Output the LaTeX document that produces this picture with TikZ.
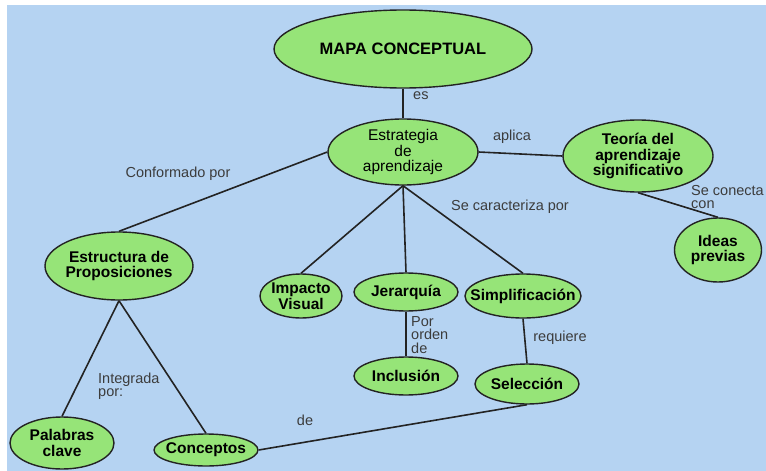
\documentclass[tikz,border=0pt]{standalone}
\usepackage{fontspec}
\setmainfont{Liberation Sans}
\usetikzlibrary{shapes.geometric}

\definecolor{paper}{RGB}{181,211,242}
\definecolor{leaf}{RGB}{150,228,120}
\definecolor{ink}{RGB}{35,35,35}
\definecolor{linkink}{RGB}{60,60,60}

\tikzset{
  concept/.style={ellipse, draw=ink, line width=1.4pt, fill=leaf, inner sep=0pt},
  ctext/.style={align=center, text=black, font=\fontsize{15.5}{15.5}\selectfont\bfseries},
  plaintext/.style={align=center, text=black, font=\fontsize{15.5}{15.5}\selectfont},
  link/.style={draw=ink, line width=1.6pt},
  linktext/.style={text=linkink, inner sep=0pt, font=\fontsize{14.5}{13.5}\selectfont}
}

\begin{document}
\begin{tikzpicture}[x=1pt, y=-1pt]
  % canvas with its thin white edge on top and left
  \fill[white] (0,0) rectangle (766,471);
  \fill[paper] (7,5) rectangle (766,471);
  \useasboundingbox (0,0) rectangle (766,471);

  % concepts
  \node[concept, minimum width=258, minimum height=78,
        label={[ctext, font=\fontsize{16.5}{16}\selectfont\bfseries]center:MAPA CONCEPTUAL}]
        (mapa) at (403,49) {};
  \node[concept, minimum width=150, minimum height=66,
        label={[plaintext]center:Estrategia\\de\\aprendizaje}]
        (estr) at (403,152) {};
  \node[concept, minimum width=150, minimum height=72,
        label={[ctext]center:Teoría del\\aprendizaje\\significativo}]
        (teoria) at (638,156) {};
  \node[concept, minimum width=87, minimum height=64,
        label={[ctext]center:Ideas\\previas}]
        (ideas) at (718,250) {};
  \node[concept, minimum width=148, minimum height=68,
        label={[ctext]center:Estructura de\\Proposiciones}]
        (estruct) at (119,266) {};
  \node[concept, minimum width=82, minimum height=44,
        label={[ctext]center:Impacto\\Visual}]
        (impacto) at (301,296) {};
  \node[concept, minimum width=104, minimum height=38,
        label={[ctext]center:Jerarquía}]
        (jerarquia) at (406,292) {};
  \node[concept, minimum width=116, minimum height=44,
        label={[ctext]center:Simplificación}]
        (simpl) at (523,296) {};
  \node[concept, minimum width=104, minimum height=38,
        label={[ctext]center:Inclusión}]
        (inclusion) at (406,376) {};
  \node[concept, minimum width=104, minimum height=40,
        label={[ctext]center:Selección}]
        (seleccion) at (527,384) {};
  \node[concept, minimum width=104, minimum height=32,
        label={[ctext]center:Conceptos}]
        (conceptos) at (206,450) {};
  \node[concept, minimum width=104, minimum height=52,
        label={[ctext]center:Palabras\\clave}]
        (palabras) at (62,443) {};

  % connectors, from border to border
  \path[link] (mapa.south) -- (estr.north);
  \path[link] (estr.east) -- (teoria.west);
  \path[link] (teoria.south) -- (ideas.north);
  \path[link] (estr.west) -- (estruct.north);
  \path[link] (estr.south) -- (impacto.north);
  \path[link] (estr.south) -- (jerarquia.north);
  \path[link] (estr.south) -- (simpl.north);
  \path[link] (jerarquia.south) -- (inclusion.north);
  \path[link] (simpl.south) -- (seleccion.north);
  \path[link] (estruct.south) -- (palabras.north);
  \path[link] (estruct.south) -- (conceptos.north);
  \path[link] (seleccion.south) -- (conceptos.east);

  % linking words
  \node[linktext, anchor=west] (l-es) at (413,96) {es};
  \node[linktext] (l-aplica) at (512,137) {aplica};
  \node[linktext, anchor=west, align=left] (l-conecta) at (691,197) {Se conecta\\con};
  \node[linktext] (l-conformado) at (178,174) {Conformado por};
  \node[linktext] (l-caracteriza) at (510,207) {Se caracteriza por};
  \node[linktext, anchor=west, align=left] (l-orden) at (411,335) {Por\\orden\\de};
  \node[linktext] (l-requiere) at (560,338) {requiere};
  \node[linktext, anchor=west, align=left] (l-integrada) at (98,386) {Integrada\\por:};
  \node[linktext] (l-de) at (305,420) {de};
\end{tikzpicture}
\end{document}
